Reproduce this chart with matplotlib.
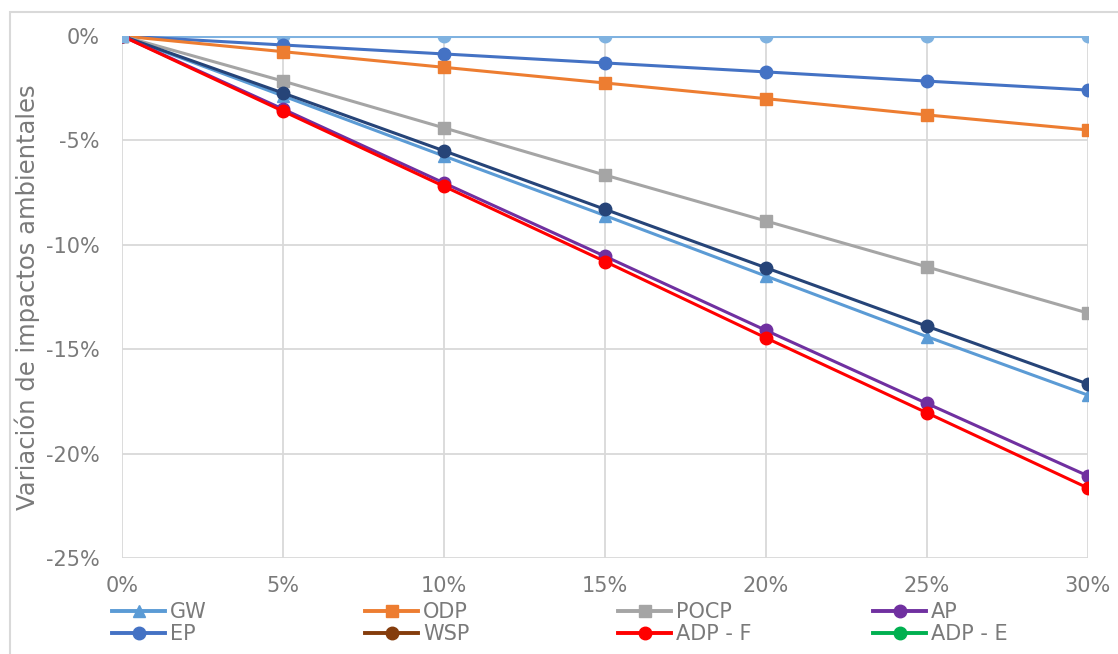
import matplotlib
matplotlib.use("Agg")
import matplotlib.pyplot as plt
from matplotlib.ticker import FuncFormatter
from matplotlib.patches import Rectangle
from matplotlib.lines import Line2D

x_pct = [0, 5, 10, 15, 20, 25, 30]
x_labels = ["0%", "5%", "10%", "15%", "20%", "25%", "30%"]
y_ticks = [0, -5, -10, -15, -20, -25]

gw = [0, -2.87, -5.75, -8.6, -11.5, -14.4, -17.2]
odp = [0, -0.75, -1.5, -2.25, -3.0, -3.78, -4.5]
pocp = [0, -2.16, -4.4, -6.66, -8.86, -11.06, -13.27]
ap = [0, -3.5, -7.04, -10.55, -14.1, -17.6, -21.07]
ep = [0, -0.43, -0.86, -1.29, -1.72, -2.16, -2.59]
wsp = [0, -2.73, -5.5, -8.3, -11.1, -13.9, -16.67]
adp_f = [0, -3.6, -7.2, -10.8, -14.46, -18.05, -21.65]
adp_e = [0, 0, 0, 0, 0, 0, 0]

plt.rcParams['font.family'] = ['DejaVu Sans']
txt = '#7a7a7a'
W, H = 1118, 654

fig = plt.figure(figsize=(W / 100, H / 100), dpi=100)
ax = fig.add_axes([122 / W, 1 - 558 / H, (1088 - 122) / W, (558 - 36) / H])

# chart border (extends beyond right/bottom edges as in the crop)
fig.patches.append(Rectangle((10 / W, -0.1), 1.2, (H - 12) / H + 0.1, transform=fig.transFigure,
                             fill=False, edgecolor='#d9d9d9', lw=1.5))

lw = 2.2
ms = 9
series = [
    ("ADP - E", adp_e, '#7FB2E0', 'o'),
    ("EP", ep, '#4472C4', 'o'),
    ("ODP", odp, '#ED7D31', 's'),
    ("POCP", pocp, '#A5A5A5', 's'),
    ("GW", gw, '#5B9BD5', '^'),
    ("WSP", wsp, '#264478', 'o'),
    ("AP", ap, '#7030A0', 'o'),
    ("ADP - F", adp_f, '#FF0000', 'o'),
]
for name, vals, c, m in series:
    ax.plot(x_pct, vals, color=c, marker=m, lw=lw, ms=ms, zorder=3)

# first point appears as a light blue square on top
ax.plot([x_pct[0]], [adp_e[0]], marker='s', color='#7FB2E0', ms=ms, lw=0, zorder=5)

ax.set_xlim(0, 30)
ax.set_ylim(-25, 0)
ax.set_xticks(x_pct)
ax.set_xticklabels(x_labels)
ax.set_yticks(y_ticks)
ax.yaxis.set_major_formatter(FuncFormatter(lambda v, p: f"{int(round(v))}%"))
ax.grid(True, color='#d9d9d9', lw=1.3, zorder=0)
for s in ax.spines.values():
    s.set_visible(False)
ax.tick_params(length=0, labelsize=15, colors=txt)
ax.tick_params(axis='x', pad=13)
ax.tick_params(axis='y', pad=16)
ax.set_ylabel("Variación de impactos ambientales", fontsize=17.5, color=txt)
ax.yaxis.set_label_coords(-(122 - 40) / (1088 - 122), 0.5)
ax.set_axisbelow(True)

legend_cols = [
    [("GW", '#5B9BD5', '^'), ("EP", '#4472C4', 'o')],
    [("ODP", '#ED7D31', 's'), ("WSP", '#843C0C', 'o')],
    [("POCP", '#A5A5A5', 's'), ("ADP - F", '#FF0000', 'o')],
    [("AP", '#7030A0', 'o'), ("ADP - E", '#00B050', 'o')],
]
col_x = [112, 365, 618, 873]
for cx, items in zip(col_x, legend_cols):
    hs = [Line2D([], [], color=c, marker=m, lw=lw + 0.6, ms=ms) for _, c, m in items]
    leg = fig.legend(hs, [n for n, _, _ in items], loc='upper left',
                     bbox_to_anchor=(cx / W, 1 - 602 / H), frameon=False,
                     fontsize=15, handlelength=2.55, handletextpad=0.24,
                     labelspacing=0.1, borderpad=0, borderaxespad=0)
    for t in leg.get_texts():
        t.set_color(txt)

fig.savefig("out.png", dpi=100)
